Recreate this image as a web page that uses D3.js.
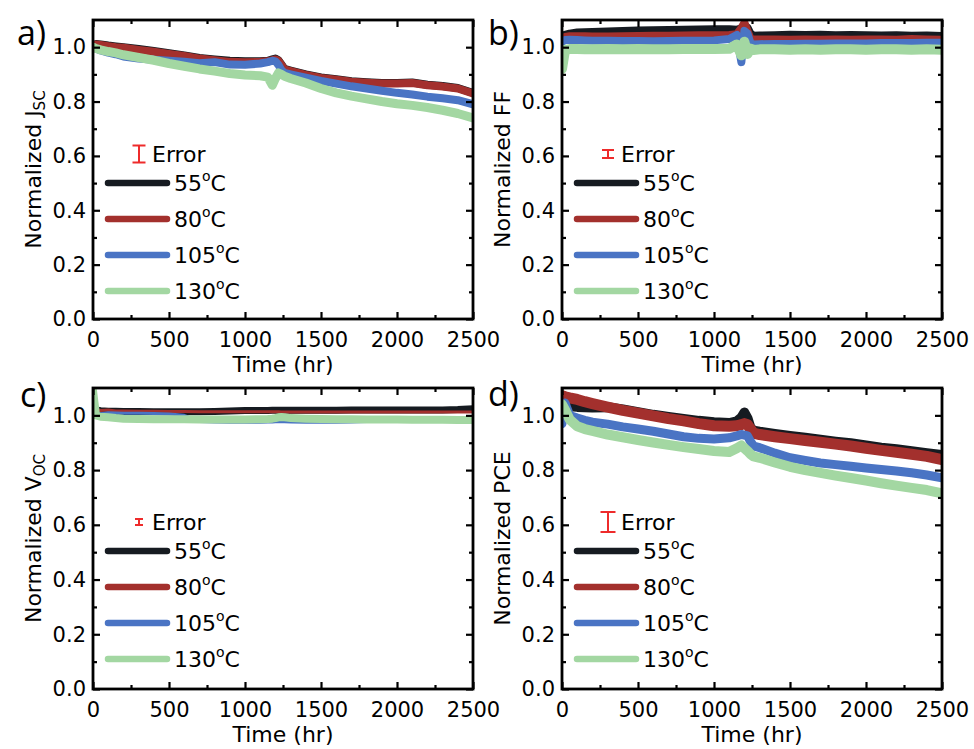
<!DOCTYPE html>
<html>
<head>
<meta charset="utf-8">
<script src="https://cdn.jsdelivr.net/npm/d3@7"></script>
<style>
html,body{margin:0;padding:0;background:#fff;}
svg{display:block;}
</style>
</head>
<body>
<svg id="chart" width="974" height="749"></svg>
<script>
// ---------- DATA ----------
const T = [0,20,50,100,150,200,300,400,500,600,700,800,900,1000,1100,1150,1180,1200,1220,1240,1260,1300,1400,1500,1600,1700,1800,1900,2000,2100,2200,2300,2400,2500];

const seriesNames = ["55", "80", "105", "130"];
const xTickValues = [0, 500, 1000, 1500, 2000, 2500];
const yTickValues = [0.0, 0.2, 0.4, 0.6, 0.8, 1.0];

// a) Jsc
const jsc55  = [1.006,1.012,1.010,1.006,1.003,1.000,0.993,0.986,0.978,0.970,0.960,0.955,0.950,0.948,0.948,0.950,0.955,0.958,0.952,0.936,0.920,0.914,0.900,0.889,0.882,0.875,0.871,0.868,0.868,0.870,0.862,0.857,0.850,0.832];
const jsc80  = [1.005,1.010,1.008,1.004,1.000,0.998,0.990,0.983,0.975,0.968,0.958,0.952,0.946,0.945,0.946,0.948,0.952,0.955,0.950,0.935,0.918,0.912,0.898,0.887,0.880,0.873,0.869,0.866,0.866,0.868,0.860,0.855,0.848,0.830];
const jsc105 = [1.000,0.995,0.988,0.980,0.974,0.966,0.958,0.954,0.950,0.946,0.941,0.945,0.936,0.935,0.940,0.945,0.950,0.948,0.935,0.915,0.905,0.900,0.888,0.876,0.866,0.856,0.848,0.840,0.832,0.826,0.818,0.812,0.805,0.790];
const jsc130 = [1.000,0.995,0.990,0.984,0.979,0.972,0.962,0.952,0.940,0.930,0.920,0.912,0.903,0.898,0.895,0.890,0.860,0.885,0.905,0.900,0.893,0.885,0.868,0.848,0.832,0.820,0.810,0.800,0.792,0.786,0.778,0.768,0.756,0.740];

// b) FF
const ff55  = [1.035,1.045,1.050,1.054,1.055,1.056,1.058,1.060,1.061,1.062,1.063,1.064,1.065,1.066,1.066,1.064,1.070,1.075,1.072,1.050,1.042,1.043,1.044,1.046,1.045,1.046,1.044,1.045,1.044,1.043,1.044,1.042,1.043,1.041];
const ff80  = [1.030,1.038,1.040,1.040,1.040,1.039,1.039,1.040,1.041,1.042,1.042,1.043,1.044,1.044,1.045,1.048,1.070,1.090,1.060,1.032,1.028,1.028,1.028,1.027,1.028,1.027,1.028,1.027,1.028,1.028,1.027,1.030,1.028,1.027];
const ff105 = [1.020,1.026,1.027,1.026,1.025,1.024,1.024,1.023,1.023,1.022,1.023,1.024,1.024,1.025,1.030,1.045,0.945,1.060,1.050,1.015,1.010,1.011,1.012,1.012,1.013,1.013,1.014,1.014,1.014,1.015,1.015,1.015,1.016,1.016];
const ff130 = [0.920,0.990,0.993,0.993,0.992,0.992,0.993,0.992,0.993,0.992,0.992,0.993,0.993,0.993,0.994,1.010,0.970,1.020,0.975,0.995,0.990,0.992,0.992,0.991,0.992,0.991,0.992,0.992,0.991,0.992,0.992,0.991,0.992,0.991];

// c) Voc
const voc55  = [1.025,1.020,1.017,1.015,1.015,1.014,1.014,1.013,1.013,1.013,1.013,1.014,1.016,1.018,1.018,1.018,1.019,1.019,1.019,1.019,1.019,1.019,1.019,1.019,1.019,1.020,1.020,1.020,1.020,1.020,1.020,1.020,1.021,1.024];
const voc80  = [1.028,1.022,1.018,1.020,1.016,1.016,1.015,1.015,1.014,1.014,1.013,1.013,1.013,1.013,1.013,1.013,1.013,1.013,1.013,1.012,1.012,1.012,1.012,1.012,1.012,1.012,1.012,1.012,1.012,1.012,1.012,1.012,1.012,1.012];
const voc105 = [1.015,1.008,1.006,1.010,1.009,1.008,1.008,1.007,1.005,1.000,0.978,0.976,0.975,0.975,0.975,0.976,0.976,0.977,0.977,0.977,0.977,0.976,0.975,0.975,0.975,0.976,0.978,0.980,0.982,0.982,0.982,0.982,0.982,0.982];
const voc130 = [1.090,1.000,0.995,0.993,0.990,0.988,0.987,0.986,0.986,0.986,0.985,0.985,0.985,0.985,0.986,0.987,0.988,0.990,0.993,0.994,0.993,0.990,0.988,0.987,0.986,0.986,0.985,0.985,0.985,0.984,0.984,0.984,0.983,0.983];

// d) PCE
const pce55  = [1.040,1.036,1.033,1.031,1.030,1.029,1.030,1.022,1.012,1.002,0.994,0.987,0.980,0.975,0.972,0.978,0.992,1.010,0.990,0.955,0.944,0.940,0.932,0.925,0.918,0.911,0.904,0.898,0.890,0.882,0.876,0.869,0.862,0.855];
const pce80  = [1.072,1.068,1.064,1.058,1.050,1.043,1.030,1.018,1.008,0.998,0.988,0.980,0.970,0.962,0.960,0.962,0.966,0.970,0.966,0.950,0.935,0.930,0.922,0.915,0.908,0.902,0.895,0.888,0.880,0.872,0.865,0.858,0.850,0.838];
const pce105 = [0.970,1.045,1.000,0.990,0.982,0.975,0.968,0.958,0.950,0.942,0.932,0.922,0.916,0.914,0.918,0.925,0.930,0.928,0.925,0.905,0.888,0.882,0.862,0.845,0.835,0.826,0.820,0.814,0.808,0.802,0.797,0.790,0.782,0.772];
const pce130 = [1.040,1.020,0.985,0.960,0.950,0.943,0.930,0.920,0.910,0.901,0.892,0.884,0.877,0.870,0.866,0.880,0.890,0.880,0.870,0.858,0.850,0.845,0.828,0.812,0.800,0.790,0.780,0.771,0.762,0.752,0.743,0.735,0.727,0.715];

// ---------- STYLE / LAYOUT ----------
const colors = ["#161b21", "#a3302d", "#4a74c4", "#a3d7a2"];
const errColor = "#ee2b2b";
const tickFont = "'DejaVu Sans', sans-serif";
const letterFont = "'Open Sans', 'Noto Sans', sans-serif";

const panels = [
  {letter:"a)", lx:17, ly:45, left:93, top:20, right:473, bottom:319,
   data:[jsc55,jsc80,jsc105,jsc130], widths:[8,8,8,9],
   ylab:"Normalized J", ysub:"SC", errH:8.5, errW:6.5},
  {letter:"b)", lx:488, ly:45, left:562, top:20, right:942, bottom:319,
   data:[ff55,ff80,ff105,ff130], widths:[8,8,8,10],
   ylab:"Normalized FF", ysub:null, errH:4, errW:6},
  {letter:"c)", lx:20, ly:407, left:93, top:388, right:473, bottom:689,
   data:[voc55,voc80,voc105,voc130], widths:[7,3,3,8],
   ylab:"Normalized V", ysub:"OC", errH:3, errW:4},
  {letter:"d)", lx:488, ly:406, left:562, top:388, right:942, bottom:689,
   data:[pce55,pce80,pce105,pce130], widths:[10,11,9,10],
   ylab:"Normalized PCE", ysub:null, errH:10, errW:7.5}
];

const svg = d3.select("#chart");

panels.forEach((p, pi) => {
  const x = d3.scaleLinear().domain([0, 2500]).range([p.left, p.right]);
  const y = d3.scaleLinear().domain([0, 1.1]).range([p.bottom, p.top]);
  const g = svg.append("g");

  const clipId = "clip" + pi;
  g.append("clipPath").attr("id", clipId).append("rect")
    .attr("x", p.left).attr("y", p.top)
    .attr("width", p.right - p.left).attr("height", p.bottom - p.top);

  const line = d3.line().x((d, i) => x(T[i])).y(d => y(d));
  const lg = g.append("g").attr("clip-path", `url(#${clipId})`);
  p.data.forEach((s, si) => {
    lg.append("path").datum(s)
      .attr("d", line)
      .attr("fill", "none")
      .attr("stroke", colors[si])
      .attr("stroke-width", p.widths[si])
      .attr("stroke-linejoin", "round")
      .attr("stroke-linecap", "round");
  });

  const tickStyle = sel => {
    sel.select(".domain").remove();
    sel.selectAll("line").attr("stroke", "#000").attr("stroke-width", 2.2);
    sel.selectAll("text").attr("font-family", tickFont).attr("font-size", 21).attr("fill", "#000");
  };
  const xMinor = d3.range(250, 2500, 500);
  const yMinor = d3.range(0.1, 1.1, 0.2);

  g.append("g").attr("transform", `translate(0,${p.bottom})`)
    .call(d3.axisBottom(x).tickValues(xTickValues).tickSize(-7).tickPadding(13).tickFormat(d3.format("d")))
    .call(tickStyle);
  g.append("g").attr("transform", `translate(0,${p.bottom})`)
    .call(d3.axisBottom(x).tickValues(xMinor).tickSize(-4).tickFormat(""))
    .call(tickStyle);
  g.append("g").attr("transform", `translate(0,${p.top})`)
    .call(d3.axisTop(x).tickValues(xTickValues).tickSize(-7).tickFormat(""))
    .call(tickStyle);
  g.append("g").attr("transform", `translate(0,${p.top})`)
    .call(d3.axisTop(x).tickValues(xMinor).tickSize(-4).tickFormat(""))
    .call(tickStyle);
  g.append("g").attr("transform", `translate(${p.left},0)`)
    .call(d3.axisLeft(y).tickValues(yTickValues).tickSize(-7).tickPadding(7).tickFormat(d3.format(".1f")))
    .call(tickStyle);
  g.append("g").attr("transform", `translate(${p.left},0)`)
    .call(d3.axisLeft(y).tickValues(yMinor).tickSize(-4).tickFormat(""))
    .call(tickStyle);
  g.append("g").attr("transform", `translate(${p.right},0)`)
    .call(d3.axisRight(y).tickValues(yTickValues).tickSize(-7).tickFormat(""))
    .call(tickStyle);
  g.append("g").attr("transform", `translate(${p.right},0)`)
    .call(d3.axisRight(y).tickValues(yMinor).tickSize(-4).tickFormat(""))
    .call(tickStyle);

  g.append("rect")
    .attr("x", p.left).attr("y", p.top)
    .attr("width", p.right - p.left).attr("height", p.bottom - p.top)
    .attr("fill", "none").attr("stroke", "#000").attr("stroke-width", 2.8);

  g.append("text")
    .attr("x", (p.left + p.right) / 2).attr("y", p.bottom + 53)
    .attr("text-anchor", "middle")
    .attr("font-family", tickFont).attr("font-size", 22)
    .text("Time (hr)");

  const yt = g.append("text")
    .attr("transform", `translate(${p.left - 52},${(p.top + p.bottom) / 2}) rotate(-90)`)
    .attr("text-anchor", "middle")
    .attr("font-family", tickFont).attr("font-size", 22);
  yt.append("tspan").text(p.ylab);
  if (p.ysub) {
    yt.append("tspan").attr("font-size", 15).attr("dy", 4).text(p.ysub);
  }

  g.append("text")
    .attr("x", p.lx).attr("y", p.ly)
    .attr("font-family", letterFont).attr("font-size", 34)
    .text(p.letter);

  const ex = p.left + 46, ey = p.top + 134;
  const eg = g.append("g").attr("stroke", errColor).attr("stroke-width", 2);
  eg.append("line").attr("x1", ex).attr("x2", ex).attr("y1", ey - p.errH).attr("y2", ey + p.errH);
  eg.append("line").attr("x1", ex - p.errW).attr("x2", ex + p.errW).attr("y1", ey - p.errH).attr("y2", ey - p.errH);
  eg.append("line").attr("x1", ex - p.errW).attr("x2", ex + p.errW).attr("y1", ey + p.errH).attr("y2", ey + p.errH);
  g.append("text")
    .attr("x", p.left + 59).attr("y", ey + 7.5)
    .attr("font-family", tickFont).attr("font-size", 22)
    .text("Error");

  seriesNames.forEach((nm, si) => {
    const ly = p.top + 163 + si * 36;
    g.append("line")
      .attr("x1", p.left + 15).attr("x2", p.left + 74)
      .attr("y1", ly).attr("y2", ly)
      .attr("stroke", colors[si]).attr("stroke-width", 6.5)
      .attr("stroke-linecap", "round");
    const t = g.append("text")
      .attr("x", p.left + 81).attr("y", ly + 8)
      .attr("font-family", tickFont).attr("font-size", 22);
    t.append("tspan").text(nm);
    t.append("tspan").attr("font-size", 14).attr("dy", -10).text("o");
    t.append("tspan").attr("dy", 10).text("C");
  });
});
</script>
</body>
</html>
